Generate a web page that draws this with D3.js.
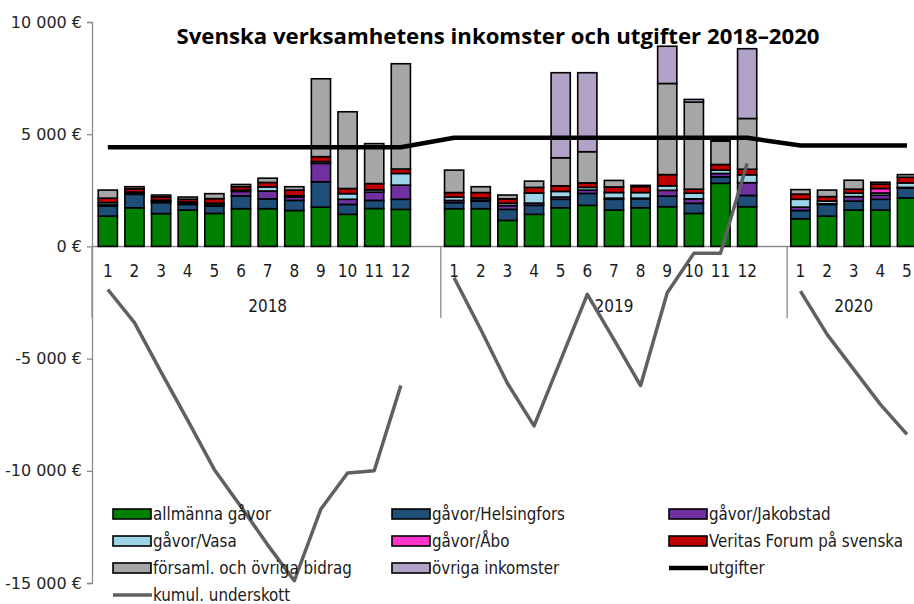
<!DOCTYPE html>
<html><head><meta charset="utf-8">
<script src="https://cdn.jsdelivr.net/npm/d3@7"></script>
<style>
html,body{margin:0;padding:0;background:#fff;}
svg{display:block;}
</style></head>
<body>
<svg id="chart" width="914" height="604"></svg>
<script>
// ---------- DATA ----------
const years = ["2018", "2019", "2020"];
const monthsPerYear = [12, 12, 5];
const seriesNames = ["allmänna gåvor", "gåvor/Helsingfors", "gåvor/Jakobstad", "gåvor/Vasa", "gåvor/Åbo", "Veritas Forum på svenska", "församl. och övriga bidrag", "övriga inkomster"];
const allmanna    = [1350,1720,1460,1620,1470,1680,1680,1600,1750,1430,1690,1650, 1680,1680,1160,1430,1720,1830,1620,1720,1770,1470,2810,1770, 1230,1350,1620,1620,2160];
const helsingfors = [450,600,490,250,330,570,440,450,1130,440,360,450, 270,340,490,400,380,530,480,400,470,450,290,500, 370,520,400,480,440];
const jakobstad   = [50,50,60,60,50,200,350,150,820,230,370,630, 100,50,170,100,100,150,50,30,260,200,150,570, 150,30,200,180,30];
const vasa        = [100,50,50,50,80,60,180,60,80,250,100,520, 150,80,100,450,250,120,250,250,200,250,150,350, 350,120,150,100,200];
const abo         = [0,0,0,0,0,0,0,0,0,0,0,0, 0,0,0,0,0,0,0,0,0,0,0,0, 0,0,0,200,0];
const veritas     = [200,150,150,120,200,150,200,250,220,230,280,200, 200,250,200,250,250,200,250,270,500,180,250,250, 230,200,180,200,250];
const forsaml     = [360,90,80,100,220,100,190,150,3470,3420,1780,4690, 1000,260,170,280,1250,1390,290,50,4060,3880,1040,2260, 200,290,400,80,120];
const ovriga      = [0,0,0,0,0,0,0,0,0,0,0,0, 0,0,0,0,3790,3520,0,0,1660,120,60,3110, 0,0,0,0,0];
const utgifter    = [4420,4420,4420,4420,4420,4420,4420,4420,4420,4420,4420,4420, 4840,4840,4840,4840,4840,4840,4840,4840,4840,4840,4840,4840, 4500,4500,4500,4500,4500];
const kumul       = [-1920,-3400,-5600,-7750,-9950,-11600,-13300,-14900,-11700,-10100,-10000,-6200,
                     -1400,-3700,-6100,-8000,-5070,-2140,-4150,-6200,-2070,-310,-310,3700,
                     -1990,-3920,-5480,-7040,-8380];
const yTicks = [10000, 5000, 0, -5000, -10000, -15000];
const titleText = "Svenska verksamhetens inkomster och utgifter 2018–2020";

// ---------- STYLE ----------
const colors = ["#008000", "#1F4E79", "#7030A0", "#9DD5E8", "#FF33CC", "#C00000", "#A6A6A6", "#B3A2C7"];
const seriesArrays = [allmanna, helsingfors, jakobstad, vasa, abo, veritas, forsaml, ovriga];
const keys = seriesNames;

// Build categories: each year's months followed by one empty slot (except last)
const cats = [];
const rows = [];
let idx = 0;
years.forEach((yr, yi) => {
  for (let m = 1; m <= monthsPerYear[yi]; m++) {
    const id = yr + "-" + m;
    cats.push(id);
    const r = {id, year: yr, month: m, yi, utg: utgifter[idx], kum: kumul[idx]};
    keys.forEach((k, ki) => r[k] = seriesArrays[ki][idx]);
    rows.push(r);
    idx++;
  }
  if (yi < years.length - 1) cats.push(yr + "-blank");
});

const svg = d3.select("#chart");
const x = d3.scaleBand().domain(cats).range([94.5, 920.3]).paddingInner(0.28).paddingOuter(0.14);
const y = d3.scaleLinear().domain([-15000, 10000]).range([583, 22]);
const xc = d => x(d) + x.bandwidth() / 2;

const loc = d3.formatLocale({decimal: ",", thousands: "\u00a0", grouping: [3], currency: ["", ""], minus: "-"});
const fmt = v => loc.format(",")(v) + " €";

const labelFont = "'Liberation Sans Narrow','Arial Narrow','DejaVu Sans Condensed',sans-serif";

// Y axis
const yAxis = d3.axisLeft(y).tickValues(yTicks).tickFormat(fmt).tickSize(5).tickPadding(5);
const gy = svg.append("g").attr("transform", "translate(92,0)").call(yAxis);
gy.select(".domain").attr("stroke", "#8c8c8c").attr("stroke-width", 1.3);
gy.selectAll(".tick line").attr("stroke", "#8c8c8c").attr("stroke-width", 1.3);
gy.selectAll(".tick text").attr("font-family", "'DejaVu Sans',Verdana,sans-serif").attr("font-size", 16).attr("fill", "#262626");

// Category axis line at zero
svg.append("line").attr("x1", 92).attr("x2", 914).attr("y1", y(0)).attr("y2", y(0))
  .attr("stroke", "#8c8c8c").attr("stroke-width", 1.5);

// Year separators
const sepCats = cats.filter(c => c.endsWith("-blank"));
sepCats.forEach(c => {
  const bx = x(c) - x.step() * x.paddingInner() / 2 + x.step();
  svg.append("line").attr("x1", bx).attr("x2", bx).attr("y1", y(0)).attr("y2", 318)
    .attr("stroke", "#8c8c8c").attr("stroke-width", 1.3);
});
svg.append("line").attr("x1", 92).attr("x2", 92).attr("y1", y(0)).attr("y2", 318)
  .attr("stroke", "#8c8c8c").attr("stroke-width", 1.3);

// Month labels
svg.append("g").selectAll("text").data(rows).join("text")
  .attr("x", d => xc(d.id)).attr("y", 277)
  .attr("text-anchor", "middle").attr("font-family", labelFont).attr("font-size", 17).attr("fill", "#1a1a1a")
  .text(d => d.month);

// Year labels
years.forEach((yr, yi) => {
  const yrRows = rows.filter(r => r.year === yr);
  let cx;
  if (yi < years.length - 1) {
    const first = x(yrRows[0].id) - x.step() * x.paddingInner() / 2;
    const last = x(yr + "-blank") + x.bandwidth() + x.step() * x.paddingInner() / 2;
    cx = (first + last) / 2;
  } else {
    cx = (xc(yrRows[0].id) + xc(yrRows[yrRows.length - 1].id)) / 2;
  }
  svg.append("text").attr("x", cx).attr("y", 312).attr("text-anchor", "middle")
    .attr("font-family", labelFont).attr("font-size", 17).attr("fill", "#1a1a1a").text(yr);
});

// Stacked bars
const stack = d3.stack().keys(keys);
const stacked = stack(rows);
const gb = svg.append("g");
stacked.forEach((layer, li) => {
  gb.append("g").selectAll("rect").data(layer.filter(d => d[1] - d[0] > 0)).join("rect")
    .attr("x", d => x(d.data.id)).attr("width", x.bandwidth())
    .attr("y", d => y(d[1])).attr("height", d => y(d[0]) - y(d[1]))
    .attr("fill", colors[li]).attr("stroke", "#000").attr("stroke-width", 1.6);
});

// Utgifter line (connects across empty slots)
const lineU = d3.line().x(d => xc(d.id)).y(d => y(d.utg));
svg.append("path").datum(rows).attr("d", lineU).attr("fill", "none")
  .attr("stroke", "#000").attr("stroke-width", 4.5).attr("stroke-linejoin", "round");

// Kumul. underskott line (separate per year)
const lineK = d3.line().x(d => xc(d.id)).y(d => y(d.kum));
years.forEach(yr => {
  svg.append("path").datum(rows.filter(r => r.year === yr)).attr("d", lineK).attr("fill", "none")
    .attr("stroke", "#606060").attr("stroke-width", 3.5).attr("stroke-linejoin", "round");
});

// Title
svg.append("text").attr("x", 498).attr("y", 44).attr("text-anchor", "middle")
  .attr("font-family", "'Open Sans','Noto Sans',sans-serif").attr("font-weight", "bold").attr("font-size", 22.2)
  .attr("fill", "#000").text(titleText);

// Legend
const legendItems = [
  {name: seriesNames[0], type: "box", color: colors[0]},
  {name: seriesNames[1], type: "box", color: colors[1]},
  {name: seriesNames[2], type: "box", color: colors[2]},
  {name: seriesNames[3], type: "box", color: colors[3]},
  {name: seriesNames[4], type: "box", color: colors[4]},
  {name: seriesNames[5], type: "box", color: colors[5]},
  {name: seriesNames[6], type: "box", color: colors[6]},
  {name: seriesNames[7], type: "box", color: colors[7]},
  {name: "utgifter", type: "line", color: "#000", w: 4.5},
  {name: "kumul. underskott", type: "line", color: "#606060", w: 3.5}
];
const colX = [113, 392, 669];
const rowY = [514, 541, 568, 595];
const gl = svg.append("g");
legendItems.forEach((it, i) => {
  const cx0 = colX[i % 3], cy0 = rowY[Math.floor(i / 3)];
  if (it.type === "box") {
    gl.append("rect").attr("x", cx0).attr("y", cy0 - 5).attr("width", 38).attr("height", 10)
      .attr("fill", it.color).attr("stroke", "#000").attr("stroke-width", 1.6);
  } else {
    gl.append("line").attr("x1", cx0).attr("x2", cx0 + 39).attr("y1", cy0).attr("y2", cy0)
      .attr("stroke", it.color).attr("stroke-width", it.w);
  }
  gl.append("text").attr("x", cx0 + 40).attr("y", cy0 + 5.5)
    .attr("font-family", labelFont).attr("font-size", 16.8).attr("fill", "#1a1a1a").text(it.name);
});
</script>
</body></html>
